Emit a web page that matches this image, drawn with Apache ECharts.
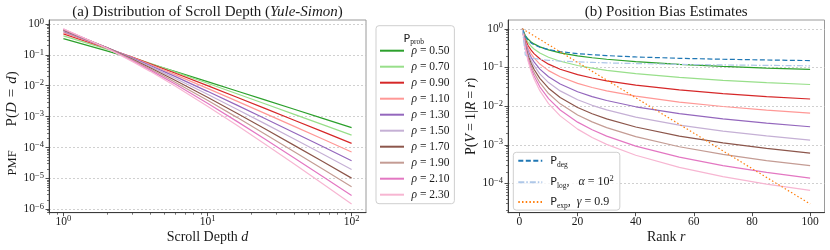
<!DOCTYPE html>
<html><head><meta charset="utf-8">
<script src="https://cdn.jsdelivr.net/npm/echarts@6/dist/echarts.min.js"></script>
<style>html,body{margin:0;padding:0;background:#fff}#c{width:830px;height:250px}</style>
</head><body><div id="c"></div>
<script>
// ---------- data ----------
const rhoLabels = ['0.50','0.70','0.90','1.10','1.30','1.50','1.70','1.90','2.10','2.30'];
const rhoColors = ['#2ca02c','#98df8a','#d62728','#ff9896','#9467bd','#c5b0d5','#8c564b','#c49c94','#e377c2','#f7b6d2'];

// (a) PMF of scroll depth, read at these depths
const depthX = [1,2,3,4,5,6,10,16,25,40,63,100];
const pmf050 = [0.3333,0.1333,0.07619,0.05079,0.03694,0.02842,0.01351,0.006764,0.003493,0.001735,0.000881,0.0004415];
const pmf070 = [0.4118,0.1525,0.08244,0.05262,0.03693,0.02756,0.01197,0.005502,0.002610,0.001184,0.0005501,0.0002517];
const pmf090 = [0.4737,0.1633,0.08376,0.05128,0.03477,0.02520,0.01002,0.004232,0.001847,0.0007659,0.0003256,0.0001360];
const pmf110 = [0.5238,0.1690,0.08242,0.04848,0.03179,0.02239,0.008174,0.003175,0.001275,0.0004834,0.0001882,0.0000718];
const pmf130 = [0.5652,0.1713,0.07967,0.04509,0.02863,0.01961,0.006577,0.002353,0.0008709,0.0003021,0.0001077,0.00003752];
const pmf150 = [0.6,0.1714,0.07619,0.04156,0.02557,0.01705,0.005262,0.001737,0.0005926,0.0001881,0.00006148,0.00001957];
const pmf170 = [0.6296,0.1702,0.07241,0.03811,0.02275,0.01477,0.004204,0.001281,0.0004034,0.0001173,0.00003510,0.00001022];
const pmf190 = [0.6552,0.1680,0.06857,0.03487,0.02021,0.01279,0.003360,0.0009461,0.0002752,0.00007330,0.00002012,0.000005356];
const pmf210 = [0.6774,0.1652,0.06479,0.03187,0.01795,0.01108,0.002690,0.0007011,0.0001885,0.00004602,0.00001159,0.000002819];
const pmf230 = [0.6970,0.1621,0.06117,0.02913,0.01596,0.009614,0.002160,0.0005216,0.0001297,0.00002904,0.000006709,0.000001492];
const pmfAll = [pmf050,pmf070,pmf090,pmf110,pmf130,pmf150,pmf170,pmf190,pmf210,pmf230];

// (b) position bias estimates, read at these ranks
const rankX = [1,2,3,4,5,7,10,14,20,25,30,40,55,70,85,100];
const pos050 = [1,0.6667,0.5333,0.4571,0.4063,0.3411,0.2838,0.2390,0.1994,0.1781,0.1625,0.1406,0.1198,0.1061,0.09627,0.08873];
const pos070 = [1,0.5882,0.4357,0.3533,0.3007,0.2363,0.1832,0.1444,0.1122,0.09587,0.08433,0.06887,0.05506,0.04650,0.04059,0.03621];
const pos090 = [1,0.5263,0.3630,0.2792,0.2279,0.1680,0.1216,0.08975,0.06503,0.05318,0.04512,0.03481,0.02612,0.02102,0.01765,0.01525];
const pos110 = [1,0.4762,0.3072,0.2248,0.1763,0.1221,0.08266,0.05719,0.03867,0.03028,0.02478,0.01807,0.01273,0.009768,0.007891,0.006599];
const pos130 = [1,0.4348,0.2635,0.1838,0.1388,0.09043,0.05734,0.03724,0.02352,0.01763,0.01393,0.009597,0.006353,0.004647,0.003611,0.002924];
const pos150 = [1,0.4,0.2286,0.1524,0.1108,0.06810,0.04052,0.02471,0.01459,0.01048,0.007989,0.005206,0.003237,0.002257,0.001689,0.001324];
const pos170 = [1,0.3704,0.2002,0.1278,0.08968,0.05203,0.02908,0.01668,0.009211,0.006340,0.004668,0.002876,0.001681,0.001118,0.0008050,0.0006112];
const pos190 = [1,0.3448,0.1768,0.1083,0.07340,0.04026,0.02116,0.01143,0.005910,0.003900,0.002774,0.001617,0.0008879,0.0005636,0.0003905,0.0002871];
const pos210 = [1,0.3226,0.1574,0.09256,0.06070,0.03150,0.01560,0.007943,0.003846,0.002434,0.001673,0.0009228,0.0004767,0.0002886,0.0001924,0.0001371];
const pos230 = [1,0.3030,0.1409,0.07978,0.05065,0.02508,0.01164,0.005590,0.002537,0.001541,0.001023,0.0005345,0.0002595,0.0001499,0.00009625,0.00006639];
const posAll = [pos050,pos070,pos090,pos110,pos130,pos150,pos170,pos190,pos210,pos230];
const pDeg = [1,0.6309,0.5,0.4307,0.3869,0.3333,0.2891,0.2560,0.2277,0.2128,0.2019,0.1867,0.1722,0.1626,0.1556,0.1502];
const pLog = [1,0.21,0.19,0.18,0.172,0.162,0.153,0.146,0.139,0.135,0.131,0.126,0.120,0.116,0.113,0.110];
const pExp = [1,0.9,0.81,0.729,0.6561,0.5314,0.3874,0.2542,0.1351,0.07977,0.04710,0.01642,0.003381,0.0006962,0.0001433,0.00002951];

// tick values
const ticksDepth = [1,10,100];
const ticksPmf = [1e-6,1e-5,1e-4,1e-3,1e-2,1e-1,1];
const ticksRank = [0,20,40,60,80,100];
const ticksBias = [1e-4,1e-3,1e-2,1e-1,1];

// ---------- style ----------
const SERIF = 'Liberation Serif';
const SANS = 'DejaVu Sans';
const INK = '#1a1a1a';
const SPINE = '#3a3a3a';

function powLabel(v){
  const e = Math.round(Math.log10(v));
  return '{b|10}{s|' + (e < 0 ? '\u2212' + (-e) : String(e)) + '}';
}
const tickRich = {
  b:{fontFamily:SERIF,fontSize:11.5,lineHeight:14,color:INK},
  s:{fontFamily:SERIF,fontSize:8.5,lineHeight:9,verticalAlign:'top',color:INK}
};
const nameRich = {
  r:{fontFamily:SERIF,fontSize:14,color:INK},
  i:{fontFamily:SERIF,fontSize:14,fontStyle:'italic',color:INK},
  t:{fontFamily:SERIF,fontSize:12.5,color:INK},
  m:{fontFamily:SERIF,fontSize:15,color:INK},
  mi:{fontFamily:SERIF,fontSize:15,fontStyle:'italic',color:INK},
  eq:{fontFamily:SERIF,fontSize:15,color:INK,padding:[0,5,0,5]},
  eq2:{fontFamily:SERIF,fontSize:14,color:INK,padding:[0,3,0,3]},
  sp:{fontFamily:SERIF,fontSize:14,width:24},
  pad:{fontFamily:SERIF,fontSize:14,width:14}
};
const gridLine = {show:true,lineStyle:{type:[2,2],color:'#c4c4c4',width:0.8}};
const axisLine = {show:true,onZero:false,lineStyle:{color:SPINE,width:1}};
const majorTick = (vals)=>({show:true,length:3.5,customValues:vals,lineStyle:{color:SPINE,width:0.9}});
const minorTick = {show:true,splitNumber:9,length:2,lineStyle:{color:SPINE,width:0.7}};

const LOGPAD = 0.1;

const series = [];
rhoLabels.forEach((lab,i)=>{
  series.push({type:'line',name:'\u03c1 = '+lab,xAxisIndex:0,yAxisIndex:0,
    data:depthX.map((d,j)=>[d,pmfAll[i][j]]),symbol:'none',showSymbol:false,
    lineStyle:{color:rhoColors[i],width:1.2},itemStyle:{color:rhoColors[i]},z:2});
});
rhoLabels.forEach((lab,i)=>{
  series.push({type:'line',name:'\u03c1 = '+lab,xAxisIndex:1,yAxisIndex:1,
    data:rankX.map((r,j)=>[r,posAll[i][j]]),symbol:'none',showSymbol:false,
    lineStyle:{color:rhoColors[i],width:1.2},itemStyle:{color:rhoColors[i]},z:2});
});
const pDefs = [
  ['P_deg',pDeg,'#1f77b4',[5,2.5]],
  ['P_log',pLog,'#aec7e8',[6,2,1.5,2]],
  ['P_exp',pExp,'#ff7f0e',[1.5,2.2]]
];
pDefs.forEach(([nm,vals,col,dash])=>{
  series.push({type:'line',name:nm,xAxisIndex:1,yAxisIndex:1,
    data:rankX.map((r,j)=>[r,vals[j]]),symbol:'none',showSymbol:false,
    lineStyle:{color:col,width:1.2,type:dash},itemStyle:{color:col},z:3});
});

const legendRich1 = {
  i:{fontFamily:SERIF,fontSize:11.5,fontStyle:'italic',color:INK,lineHeight:14,padding:[0,0,0,2.5]},
  r:{fontFamily:SERIF,fontSize:11.5,color:INK,lineHeight:14}
};
const legendRich2 = {
  P:{fontFamily:SANS,fontSize:11,color:INK,lineHeight:16,padding:[0,0,0,3]},
  sub:{fontFamily:SERIF,fontSize:7.5,color:INK,lineHeight:9,verticalAlign:'bottom'},
  sup:{fontFamily:SERIF,fontSize:8.5,color:INK,lineHeight:9,verticalAlign:'top'},
  r:{fontFamily:SERIF,fontSize:12,color:INK,lineHeight:16},
  i:{fontFamily:SERIF,fontSize:12,fontStyle:'italic',color:INK,lineHeight:16}
};
const pLegendText = {
  P_deg:'{P|P}{sub|deg}',
  P_log:'{P|P}{sub|log}{r|,   }{i|\u03b1}{r| = 10}{sup|2}',
  P_exp:'{P|P}{sub|exp}{r|,  }{i|\u03b3}{r| = 0.9}'
};
const hideSymbol = {opacity:0,borderWidth:0};

const option = {
  animation:false,
  backgroundColor:'#ffffff',
  grid:[
    {left:49,top:20,width:317,height:192.7,show:true,borderColor:'#9a9a9a',borderWidth:1,containLabel:false,outerBoundsMode:'none'},
    {left:508,top:20,width:316.5,height:192.7,show:true,borderColor:'#9a9a9a',borderWidth:1,containLabel:false,outerBoundsMode:'none'}
  ],
  xAxis:[
    {type:'log',gridIndex:0,min:Math.pow(10,-LOGPAD),max:Math.pow(10,2+LOGPAD),
     axisLine,axisTick:majorTick(ticksDepth),minorTick,splitLine:{show:false},
     axisLabel:{customValues:ticksDepth,formatter:powLabel,rich:tickRich,margin:2},
     name:'Scroll Depth {i|d}',nameLocation:'middle',nameGap:18,nameMoveOverlap:false,
     nameTextStyle:{fontFamily:SERIF,fontSize:14,color:INK,rich:nameRich}},
    {type:'value',gridIndex:1,min:-3.95,max:104.95,
     axisLine,axisTick:majorTick(ticksRank),splitLine:{show:false},
     axisLabel:{customValues:ticksRank,fontFamily:SERIF,fontSize:11.5,lineHeight:14,color:INK,margin:2},
     name:'Rank {i|r}',nameLocation:'middle',nameGap:18,nameMoveOverlap:false,
     nameTextStyle:{fontFamily:SERIF,fontSize:14,color:INK,rich:nameRich}}
  ],
  yAxis:[
    {type:'log',gridIndex:0,min:Math.pow(10,-6.109),max:Math.pow(10,0.126),
     axisLine,axisTick:majorTick(ticksPmf),minorTick,splitLine:gridLine,
     axisLabel:{customValues:ticksPmf,formatter:powLabel,rich:tickRich,margin:5},
     name:'{t|PMF}{sp| }{m|P(}{mi|D}{eq|=}{mi|d}{m|)}{pad| }',nameLocation:'middle',nameGap:29,nameMoveOverlap:false,
     nameTextStyle:{fontFamily:SERIF,fontSize:14,color:INK,rich:nameRich}},
    {type:'log',gridIndex:1,min:Math.pow(10,-4.757),max:Math.pow(10,0.2265),
     axisLine,axisTick:majorTick(ticksBias),minorTick,splitLine:gridLine,
     axisLabel:{customValues:ticksBias,formatter:powLabel,rich:tickRich,margin:5},
     name:'{r|P(}{i|V}{eq2|=}{r|1|}{i|R}{eq2|=}{i|r}{r|)}',nameLocation:'middle',nameGap:30,nameMoveOverlap:false,
     nameTextStyle:{fontFamily:SERIF,fontSize:14,color:INK,rich:nameRich}}
  ],
  legend:[
    {data:rhoLabels.map(l=>'\u03c1 = '+l),orient:'vertical',left:376,top:25.7,
     padding:[19,5,3,3],itemWidth:24,itemHeight:14,itemGap:4,selectedMode:false,
     itemStyle:hideSymbol,
     backgroundColor:'rgba(255,255,255,0.8)',borderColor:'#cfcfcf',borderWidth:1,borderRadius:3,
     formatter:n=>'{i|\u03c1}{r| = '+n.split('= ')[1]+'}',
     textStyle:{rich:legendRich1,fontFamily:SERIF,fontSize:11.5,color:INK}},
    {data:['P_deg','P_log','P_exp'],orient:'vertical',left:513.3,top:152.3,
     padding:[2,6,0,4],itemWidth:24,itemHeight:16,itemGap:5.5,selectedMode:false,
     itemStyle:hideSymbol,
     backgroundColor:'rgba(255,255,255,0.8)',borderColor:'#cfcfcf',borderWidth:1,borderRadius:3,
     formatter:n=>pLegendText[n],
     textStyle:{rich:legendRich2,fontFamily:SERIF,fontSize:12,color:INK}}
  ],
  graphic:[
    {type:'text',x:207.5,y:12,z:100,style:{text:'{r|(a) Distribution of Scroll Depth (}{i|Yule-Simon}{r|)}',
      align:'center',verticalAlign:'middle',
      rich:{r:{fontFamily:SERIF,fontSize:15,fill:INK,color:INK},i:{fontFamily:SERIF,fontSize:15,fontStyle:'italic',fill:INK,color:INK}}}},
    {type:'text',x:666.25,y:12,z:100,style:{text:'(b) Position Bias Estimates',align:'center',verticalAlign:'middle',
      fontFamily:SERIF,fontSize:15,fill:INK}},
    {type:'text',x:413.8,y:39,z:100,style:{text:'{P|P}{sub|prob}',align:'center',verticalAlign:'middle',
      rich:{P:{fontFamily:SANS,fontSize:11,fill:INK,color:INK,lineHeight:14},
            sub:{fontFamily:SERIF,fontSize:7.5,fill:INK,color:INK,lineHeight:9,verticalAlign:'bottom'}}}}
  ],
  series
};
const chart = echarts.init(document.getElementById('c'),null,{renderer:'canvas'});
chart.setOption(option);
</script></body></html>
